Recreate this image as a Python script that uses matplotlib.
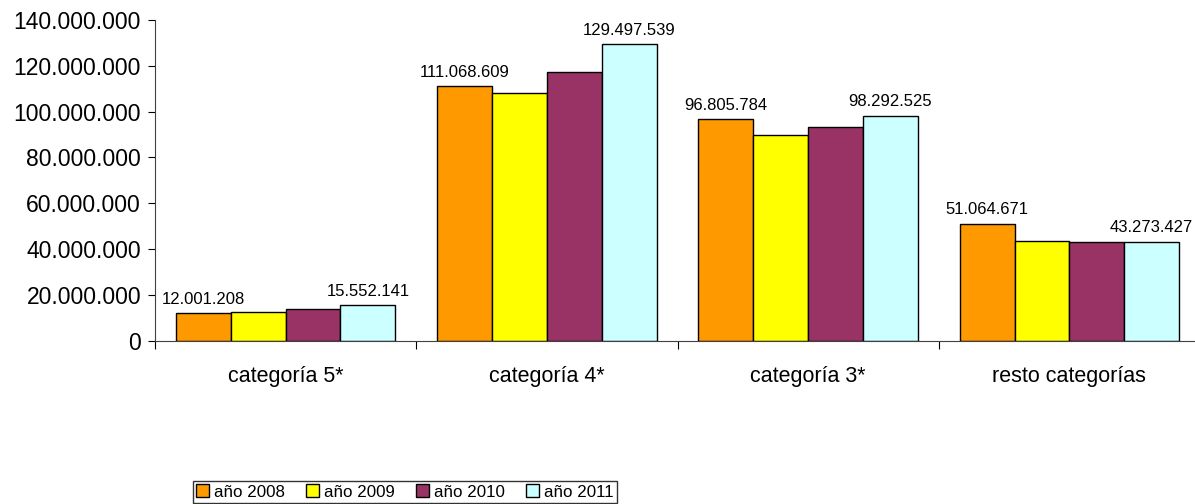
import numpy as np
import matplotlib.pyplot as plt
from matplotlib.ticker import FuncFormatter

plt.rcParams['font.family'] = ['Liberation Sans', 'DejaVu Sans']

# --- data ---
categories = ['categoría 5*', 'categoría 4*', 'categoría 3*', 'resto categorías']
years = ['año 2008', 'año 2009', 'año 2010', 'año 2011']
v2008 = [12001208, 111068609, 96805784, 51064671]
v2009 = [12400000, 108300000, 90000000, 43700000]
v2010 = [14000000, 117400000, 93400000, 43300000]
v2011 = [15552141, 129497539, 98292525, 43273427]
series = [v2008, v2009, v2010, v2011]
colors = ['#FF9900', '#FFFF00', '#993366', '#CCFFFF']
labelled = [True, False, False, True]   # only first and last year carry labels


def dotted(v, pos=None):
    return f'{int(round(v)):,}'.replace(',', '.')


fig = plt.figure(figsize=(11.95, 5.04), dpi=100)
ax = fig.add_axes([155 / 1195, 1 - 340.7 / 504, 1045 / 1195, 320.7 / 504])

x = np.arange(len(categories))
w = 0.21
for i, (vals, col, lab) in enumerate(zip(series, colors, labelled)):
    pos = x + (i - 1.5) * w
    bars = ax.bar(pos, vals, width=w, color=col, edgecolor='black',
                  linewidth=1.0, label=years[i], zorder=2)
    if lab:
        for b, v in zip(bars, vals):
            ax.text(b.get_x() + b.get_width() / 2, v + 2.8e6, dotted(v),
                    ha='center', va='bottom', fontsize=12)

ax.set_xlim(-0.5, 3.5)
ax.set_ylim(0, 140000000)
ax.set_yticks(np.arange(0, 140000001, 20000000))
ax.yaxis.set_major_formatter(FuncFormatter(dotted))
ax.tick_params(axis='y', labelsize=16.5, length=5, width=0.8, direction='out', pad=5)

ax.set_xticks(x)
ax.set_xticklabels(categories)
ax.set_xticks(np.arange(-0.5, 4.0, 1.0), minor=True)
ax.tick_params(axis='x', which='major', length=0, labelsize=15.5, pad=18)
ax.tick_params(axis='x', which='minor', length=6, width=0.8, direction='out')

for s in ['top', 'right']:
    ax.spines[s].set_visible(False)
ax.spines['left'].set_color('#404040')
ax.spines['bottom'].set_color('#404040')
ax.spines['left'].set_linewidth(0.8)
ax.spines['bottom'].set_linewidth(0.8)

leg = fig.legend(loc='lower left', bbox_to_anchor=(193 / 1195, 1 / 504), ncol=4,
                 fontsize=12.2, frameon=True, fancybox=False, edgecolor='black',
                 handlelength=0.75, handleheight=0.75, handletextpad=0.3,
                 columnspacing=1.25, borderpad=0.2, borderaxespad=0)
leg.get_frame().set_linewidth(1.0)

fig.savefig('out.png', dpi=100)
